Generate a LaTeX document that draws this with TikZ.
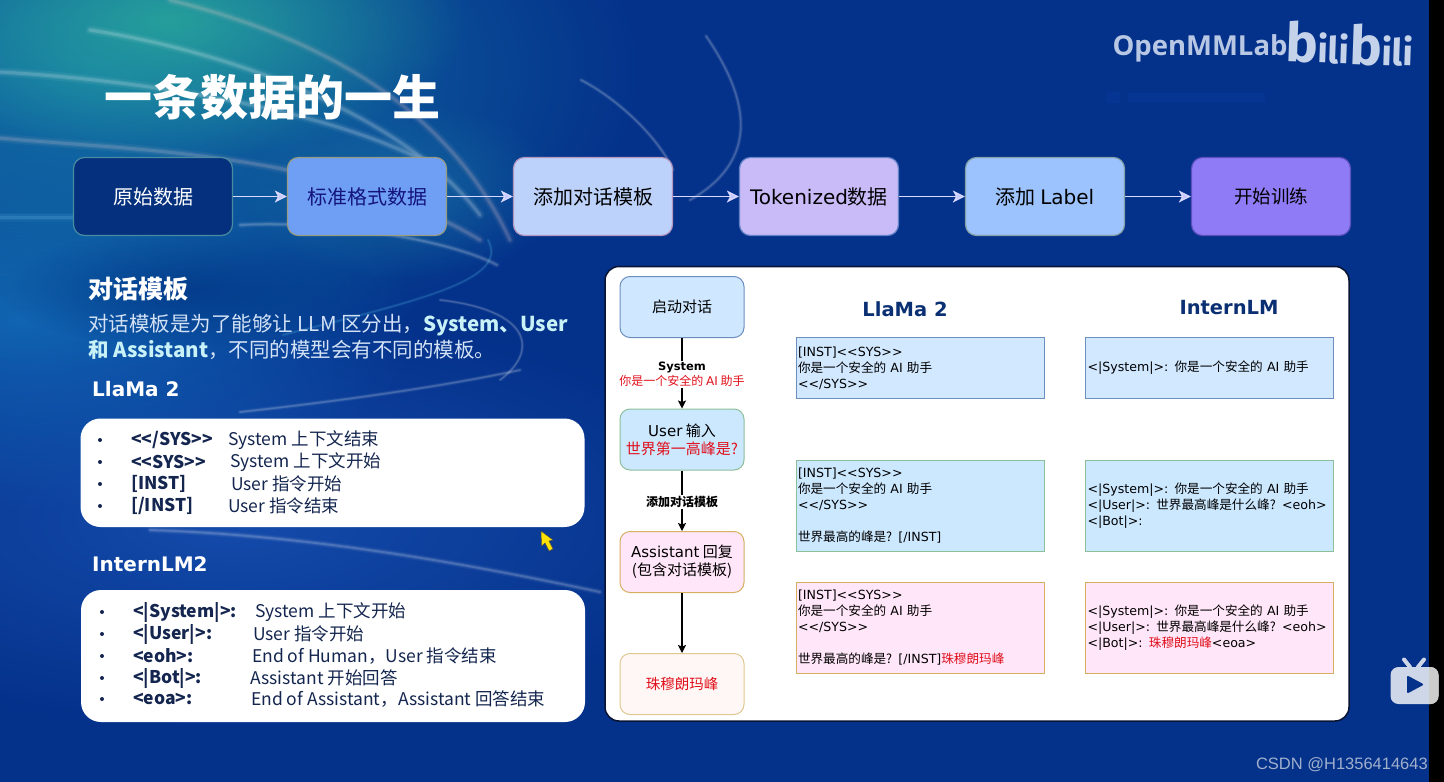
\documentclass[tikz,border=0pt]{standalone}
\usepackage{fontspec}
\setmainfont{Noto Sans CJK SC}
\newfontfamily\comicf{DejaVu Sans}
\newfontfamily\arialf{Liberation Sans}
\newfontfamily\openf{Open Sans}
\newfontfamily\firaf{Fira Sans}
\usetikzlibrary{arrows.meta,fadings}
\newcommand\C[1]{{\comicf #1}}
\newcommand\FS[2]{\fontsize{#1}{#2}\selectfont}
\newcommand\LL{<\kern0pt<}
\newcommand\GG{>\kern0pt>}
\definecolor{bgblue}{HTML}{04318A}
\definecolor{navytxt}{HTML}{14264F}
\definecolor{headblue}{HTML}{0B2F73}
\definecolor{redtxt}{HTML}{E0101C}
\definecolor{softwhite}{HTML}{D3E2F6}
\definecolor{softcyan}{HTML}{C8F2F8}
\tikzfading[name=softglow, inner color=transparent!0, outer color=transparent!100]
\tikzset{
  x=1pt,y=-1pt,
  glow/.style={path fading=softglow},
  topbox/.style={rounded corners=11pt,line width=1.2pt,minimum width=159pt,minimum height=78pt,inner sep=0pt,font=\FS{20}{24}},
  toparrow/.style={draw=white!85!blue,line width=1.4pt,-{Stealth[length=12pt,width=12pt,inset=3pt,fill=white!78!blue]}},
  flowbox/.style={draw,rounded corners=10pt,line width=1pt,minimum width=124pt,minimum height=61pt,inner sep=0pt,align=center,font=\FS{15}{17}},
  flowarrow/.style={draw=black,line width=1.3pt,-{Stealth[length=8pt,width=8pt,inset=1.5pt]}},
  edgelabel/.style={fill=white,inner sep=1pt,align=center,font=\FS{12}{15}},
  codebox/.style={draw,line width=1pt,text width=244pt,inner xsep=2pt,inner ysep=0pt,align=left,font=\FS{12.6}{16}},
  whitepanel/.style={fill=white,rounded corners=20pt},
  rowtxt/.style={anchor=west,inner sep=0pt,text=navytxt,font=\FS{17.5}{20}},
  bullet/.style={circle,fill=navytxt,inner sep=0pt,minimum size=4pt},
  streak/.style={line cap=round,draw=#1},
}
\newcommand\STREAK[3]{%
  \draw[streak=#1,line width=#2*3,opacity=.05] #3;
  \draw[streak=#1,line width=#2*1.8,opacity=.08] #3;
  \draw[streak=#1,line width=#2,opacity=.14] #3;
}
\begin{document}
\begin{tikzpicture}
\useasboundingbox (0,0) rectangle (1444,782);
\clip (0,0) rectangle (1444,782);
% background
\fill[bgblue] (0,0) rectangle (1444,782);
\fill[color={rgb,255:red,30;green,90;blue,190},glow,opacity=.65] (230,520) ellipse [x radius=520,y radius=210];
\fill[color={rgb,255:red,20;green,110;blue,190},glow,opacity=.8] (20,320) ellipse [x radius=400,y radius=190];
\fill[color={rgb,255:red,20;green,120;blue,170},glow,opacity=.95] (90,70) ellipse [x radius=560,y radius=300];
\fill[color={rgb,255:red,40;green,165;blue,155},glow,opacity=.9] (170,20) ellipse [x radius=300,y radius=140];
\fill[color={rgb,255:red,30;green,130;blue,170},glow,opacity=.5] (400,190) ellipse [x radius=160,y radius=90];
\fill[color={rgb,255:red,0;green,50;blue,130},glow,opacity=.7] (190,290) ellipse [x radius=190,y radius=60];
% streaks
\STREAK{pink!70!white}{3}{(170,0) .. controls (290,30) and (440,90) .. (510,240)}
\STREAK{white}{3}{(90,30) .. controls (220,50) and (400,110) .. (480,215)}
\STREAK{white}{3}{(0,72) .. controls (140,80) and (340,110) .. (440,170)}
\STREAK{pink!60!white}{3}{(0,138) .. controls (120,150) and (330,150) .. (480,240)}
\STREAK{cyan!50!white}{3}{(0,217) -- (73,217)}
\STREAK{white}{2}{(240,225) .. controls (330,220) and (450,240) .. (497,265)}
\STREAK{white}{1.5}{(706,36) .. controls (750,100) and (760,160) .. (690,200)}
\STREAK{white}{1.5}{(581,80) .. controls (620,100) and (660,140) .. (673,170)}
\STREAK{cyan!60!white}{1.2}{(488,240) .. controls (510,280) and (420,300) .. (283,335)}
\STREAK{white}{1.2}{(440,300) .. controls (530,310) and (540,350) .. (500,380)}
\STREAK{white}{2}{(150,530) .. controls (300,535) and (450,560) .. (600,592)}
\STREAK{white}{1.5}{(240,412) .. controls (350,400) and (450,385) .. (520,370)}
\fill[color={rgb,255:red,6;green,52;blue,146}] (1107,92) rectangle (1120,103);
\fill[color={rgb,255:red,6;green,52;blue,146}] (1128,93) rectangle (1265,102);
% right black strip
\fill[black] (1429,0) rectangle (1444,782);
% title and logos
\node[anchor=center,inner sep=0pt,text=white,font=\FS{48}{50}\bfseries] (title) at (272,97) {一条数据的一生};
\node[inner sep=0pt,text={rgb,255:red,184;green,200;blue,228},font=\openf\bfseries\FS{27.5}{30}] (oml) at (1200,48) {OpenMMLab};
\node[inner sep=0pt,text={rgb,255:red,196;green,210;blue,234},font=\firaf\bfseries,rotate=-2] (bili) at (1350,44) {\FS{54}{54}b\FS{37}{37}ili\FS{54}{54}b\FS{37}{37}ili};
% top pipeline
\node[topbox,draw={rgb,255:red,72;green,140;blue,160},fill={rgb,255:red,4;green,48;blue,126},text=white] (p1) at (153,196.5) {原始数据};
\node[topbox,draw={rgb,255:red,150;green,155;blue,130},fill={rgb,255:red,110;green,159;blue,245},text={rgb,255:red,20;green,20;blue,124}] (p2) at (367,196.5) {标准格式数据};
\node[topbox,draw={rgb,255:red,180;green,150;blue,190},fill={rgb,255:red,188;green,210;blue,251},text=black] (p3) at (593,196.5) {添加对话模板};
\node[topbox,draw={rgb,255:red,100;green,130;blue,200},fill={rgb,255:red,200;green,187;blue,248},text=black] (p4) at (819,196.5) {\C{Tokenized}数据};
\node[topbox,draw={rgb,255:red,130;green,160;blue,165},fill={rgb,255:red,156;green,195;blue,253},text=black] (p5) at (1045,196.5) {添加 \C{Label}};
\node[topbox,draw={rgb,255:red,90;green,80;blue,190},fill={rgb,255:red,142;green,123;blue,245},text=black,font=\FS{18.5}{22}] (p6) at (1271,196.5) {开始训练};
\foreach \a/\b in {p1/p2,p2/p3,p3/p4,p4/p5,p5/p6}
  \draw[toparrow] (\a) -- (\b);
% left text
\node[anchor=west,inner sep=0pt,text=white,font=\FS{25}{28}\bfseries] (h1) at (88,289) {对话模板};
\node[anchor=west,inner sep=0pt,text=softwhite,font=\FS{20.5}{24}] (l1) at (88,325) {对话模板是为了能够让 LLM 区分出，\textcolor{softcyan}{\bfseries System、User}};
\node[anchor=west,inner sep=0pt,text=softwhite,font=\FS{20.5}{24}] (l2) at (88,350) {\textcolor{softcyan}{\bfseries 和 Assistant}，不同的模型会有不同的模板。};
\node[anchor=west,inner sep=0pt,text=white,font=\comicf\bfseries\FS{20}{24}] (h2) at (92,389) {LlaMa 2};
\node[anchor=west,inner sep=0pt,text=white,font=\comicf\bfseries\FS{20}{24}] (h3) at (92,564) {InternLM2};
% left panels
\fill[whitepanel] (80.5,418.5) rectangle (584.5,527);
\fill[whitepanel] (81,590) rectangle (585,722);
\foreach \y/\bt/\x/\d in {440/{\LL/SYS\GG}/228/{System 上下文结束},462/{\LL SYS\GG}/230/{System 上下文开始},484/{[INST]}/231/{User 指令开始},506/{[/INST]}/228/{User 指令结束}}{
  \node[bullet] at (100,\y) {};
  \node[rowtxt,font=\FS{17.5}{20}\bfseries] at (131,\y) {\bt};
  \node[rowtxt] at (\x,\y) {\d};
}
\foreach \y/\bt/\x/\d in {612/{<|System|>:}/255/{System 上下文开始},634/{<|User|>:}/253/{User 指令开始},656/{<eoh>:}/252/{End of Human，User 指令结束},678/{<|Bot|>:}/250/{Assistant 开始回答},699/{<eoa>:}/251/{End of Assistant，Assistant 回答结束}}{
  \node[bullet] at (102,\y) {};
  \node[rowtxt,font=\FS{17.5}{20}\bfseries] at (133,\y) {\bt};
  \node[rowtxt] at (\x,\y) {\d};
}
% cursor
\fill[yellow!85!orange,draw=black!70,line width=.5pt] (541,531) -- (541.5,546) -- (545,543) -- (549,551) -- (553,549) -- (549,541) -- (553,540) -- cycle;
% right panel
\fill[white,draw={rgb,255:red,8;green,20;blue,50},line width=1.5pt,rounded corners=14pt] (605,266.5) rectangle (1349,721);
% flow
\node[flowbox,draw={rgb,255:red,108;green,142;blue,191},fill={rgb,255:red,207;green,231;blue,255}] (f1) at (682,307) {启动对话};
\node[flowbox,draw={rgb,255:red,140;green,192;blue,154},fill={rgb,255:red,204;green,232;blue,255}] (f2) at (682,439.5) {\C{User} 输入\\[1pt]\textcolor{redtxt}{世界第一高峰是?}};
\node[flowbox,draw={rgb,255:red,214;green,176;blue,96},fill={rgb,255:red,255;green,230;blue,248}] (f3) at (682,562) {\C{Assistant} 回复\\[1pt](包含对话模板)};
\node[flowbox,draw={rgb,255:red,224;green,200;blue,144},fill={rgb,255:red,255;green,247;blue,245},text=redtxt,font=\FS{14.5}{17}] (f4) at (682,684) {珠穆朗玛峰};
\draw[flowarrow] (f1) -- node[edgelabel,pos=.52] {\C{\bfseries\FS{11.5}{15}System}\\\textcolor{redtxt}{\FS{12}{15}你是一个安全的 \C{AI} 助手}} (f2);
\draw[flowarrow] (f2) -- node[edgelabel,pos=.52,font=\FS{12}{15}\bfseries] {添加对话模板} (f3);
\draw[flowarrow] (f3) -- (f4);
\node[inner sep=0pt,text=headblue,font=\comicf\bfseries\FS{19.5}{24}] (t1) at (905,309) {LlaMa 2};
\node[inner sep=0pt,text=headblue,font=\comicf\bfseries\FS{19.5}{24}] (t2) at (1229,308) {InternLM};
% code boxes
\newcommand\ASYS{\C{[INST]\LL SYS\GG}\\你是一个安全的 \C{AI} 助手\\\C{\LL/SYS\GG}}
\newcommand\AUSR{世界最高的峰是? \C{[/INST]}}
\newcommand\BSYS{\C{<|System|>:} 你是一个安全的 \C{AI} 助手}
\newcommand\BUSR{\C{<|User|>:} 世界最高峰是什么峰? \C{<eoh>}}
\tikzset{
  blueb/.style={codebox,draw={rgb,255:red,108;green,142;blue,191},fill={rgb,255:red,209;green,232;blue,255},minimum height=61pt},
  greenb/.style={codebox,draw={rgb,255:red,140;green,192;blue,154},fill={rgb,255:red,204;green,232;blue,255},minimum height=91pt},
  pinkb/.style={codebox,draw={rgb,255:red,214;green,176;blue,96},fill={rgb,255:red,255;green,230;blue,248},minimum height=91pt},
}
\node[blueb] (a1) at (920,368) {\ASYS};
\node[greenb] (a2) at (920,505.5) {\ASYS\\[16pt]\AUSR};
\node[pinkb] (a3) at (920,628) {\ASYS\\[16pt]\AUSR\textcolor{redtxt}{珠穆朗玛峰}};
\node[blueb] (b1) at (1209.5,368) {\BSYS};
\node[greenb] (b2) at (1209.5,505.5) {\BSYS\\\BUSR\\\C{<|Bot|>:}};
\node[pinkb] (b3) at (1209.5,628) {\BSYS\\\BUSR\\\C{<|Bot|>:} \textcolor{redtxt}{珠穆朗玛峰}\C{<eoa>}};
% play icon
\fill[color={rgb,255:red,205;green,215;blue,232},rounded corners=8pt] (1390.5,667) rectangle (1438.5,704);
\begin{scope}
\clip (1429,660) rectangle (1444,710);
\fill[color={rgb,255:red,204;green,204;blue,204},rounded corners=8pt] (1390.5,667) rectangle (1438.5,704);
\end{scope}
\draw[line width=4pt,line cap=round,color={rgb,255:red,205;green,215;blue,232}] (1404,659.5) -- (1410,667);
\draw[line width=4pt,line cap=round,color={rgb,255:red,205;green,215;blue,232}] (1424,659.5) -- (1418,667);
\fill[color={rgb,255:red,4;green,49;blue,138},line join=round,draw={rgb,255:red,4;green,49;blue,138},line width=2pt] (1408,677) -- (1408,692) -- (1422,684.5) -- cycle;
% watermark
\node[inner sep=0pt,anchor=east,text={rgb,255:red,160;green,176;blue,204},font=\arialf\FS{16.5}{18}] (csdn) at (1428,765) {CSDN @H1356414643};
\end{tikzpicture}
\end{document}
